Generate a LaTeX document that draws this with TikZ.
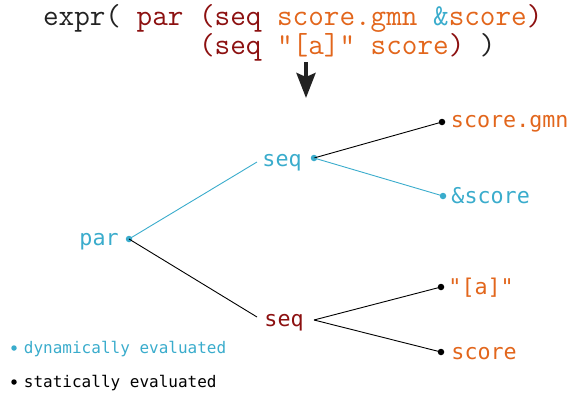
\documentclass[tikz,border=0pt]{standalone}
\usepackage{fontspec}
\usetikzlibrary{arrows.meta}
\newfontfamily\treefont{DejaVu Sans Mono}
\definecolor{dynblue}{RGB}{58,172,204}
\definecolor{seqred}{RGB}{140,16,16}
\definecolor{leaforange}{RGB}{226,102,28}
\definecolor{codegray}{RGB}{34,34,34}
\tikzset{
	dyndot/.style={circle,fill=dynblue,inner sep=0pt,minimum size=6.5pt},
	statdot/.style={circle,fill=black,inner sep=0pt,minimum size=6.5pt},
	code/.style={inner sep=0pt,anchor=base west,text=codegray,font=\ttfamily\fontsize{30.3}{34}\selectfont},
	tree/.style={inner sep=0pt,anchor=base west,font=\treefont\fontsize{21.7}{26}\selectfont},
	legend/.style={inner sep=0pt,anchor=base west,font=\treefont\fontsize{16}{19}\selectfont}
}

\begin{document}
\begin{tikzpicture}[x=1pt,y=-1pt,line width=0.9pt]
\def\kante#1#2#3{
	\draw[#1] #2 -- #3;
}
\useasboundingbox (0,0) rectangle (574,394);
\coordinate (c1) at (42.6,25);
\coordinate (c2) at (42.6,54);
\coordinate (arrtop) at (306,62);
\coordinate (arrtip) at (306,98);
\coordinate (q0) at (129,239);
\coordinate (q1) at (314,158);
\coordinate (q2) at (314,320);
\coordinate (q3) at (442,122);
\coordinate (q4) at (443,196);
\coordinate (q5) at (441,287);
\coordinate (q6) at (441,352);
\coordinate (s1in) at (257,162);
\coordinate (s2in) at (257,317);
\node[code] (line1) at (c1) {expr( \textcolor{seqred}{par (seq} \textcolor{leaforange}{score.gmn} \textcolor{dynblue}{\&}\textcolor{leaforange}{score}\textcolor{seqred}{)}};
\node[code] (line2) at (c2) {\phantom{expr( par }\textcolor{seqred}{(seq} \textcolor{leaforange}{"[a]" score}\textcolor{seqred}{)} )};
\draw[line width=4pt,-{Stealth[length=25pt,width=19pt,inset=4pt]},codegray] (arrtop) -- (arrtip);
\node[dyndot] (par) at (q0) {};
\node[dyndot] (s1) at (q1) {};
\coordinate (s2) at (q2);
\node[statdot] (l1) at (q3) {};
\node[dyndot] (l2) at (q4) {};
\node[statdot] (l3) at (q5) {};
\node[statdot] (l4) at (q6) {};
\node[tree,text=dynblue] (partxt) at (79,245) {par};
\node[tree,text=dynblue] (s1txt) at (262,166) {seq};
\node[tree,text=seqred] (s2txt) at (264,326) {seq};
\node[tree,text=leaforange] (l1txt) at (450.5,127) {score.gmn};
\node[tree,text=dynblue] (l2txt) at (451,203) {\&score};
\node[tree,text=leaforange] (l3txt) at (448,294) {"[a]"};
\node[tree,text=leaforange] (l4txt) at (451,359) {score};
\kante{dynblue}{(par.center)}{(s1in)}
\kante{black}{(par.center)}{(s2in)}
\kante{black}{(s1.center)}{(l1.center)}
\kante{dynblue}{(s1.center)}{(l2.center)}
\kante{black}{(s2)}{(l3.center)}
\kante{black}{(s2)}{(l4.center)}
\node[dyndot,minimum size=5.5pt] (dynkey) at (14,348) {};
\node[legend,text=dynblue] (dynlabel) at (23.5,353) {dynamically evaluated};
\node[statdot,minimum size=5.5pt] (statkey) at (14,382) {};
\node[legend] (statlabel) at (23.5,387) {statically evaluated};
\end{tikzpicture}
\end{document}
